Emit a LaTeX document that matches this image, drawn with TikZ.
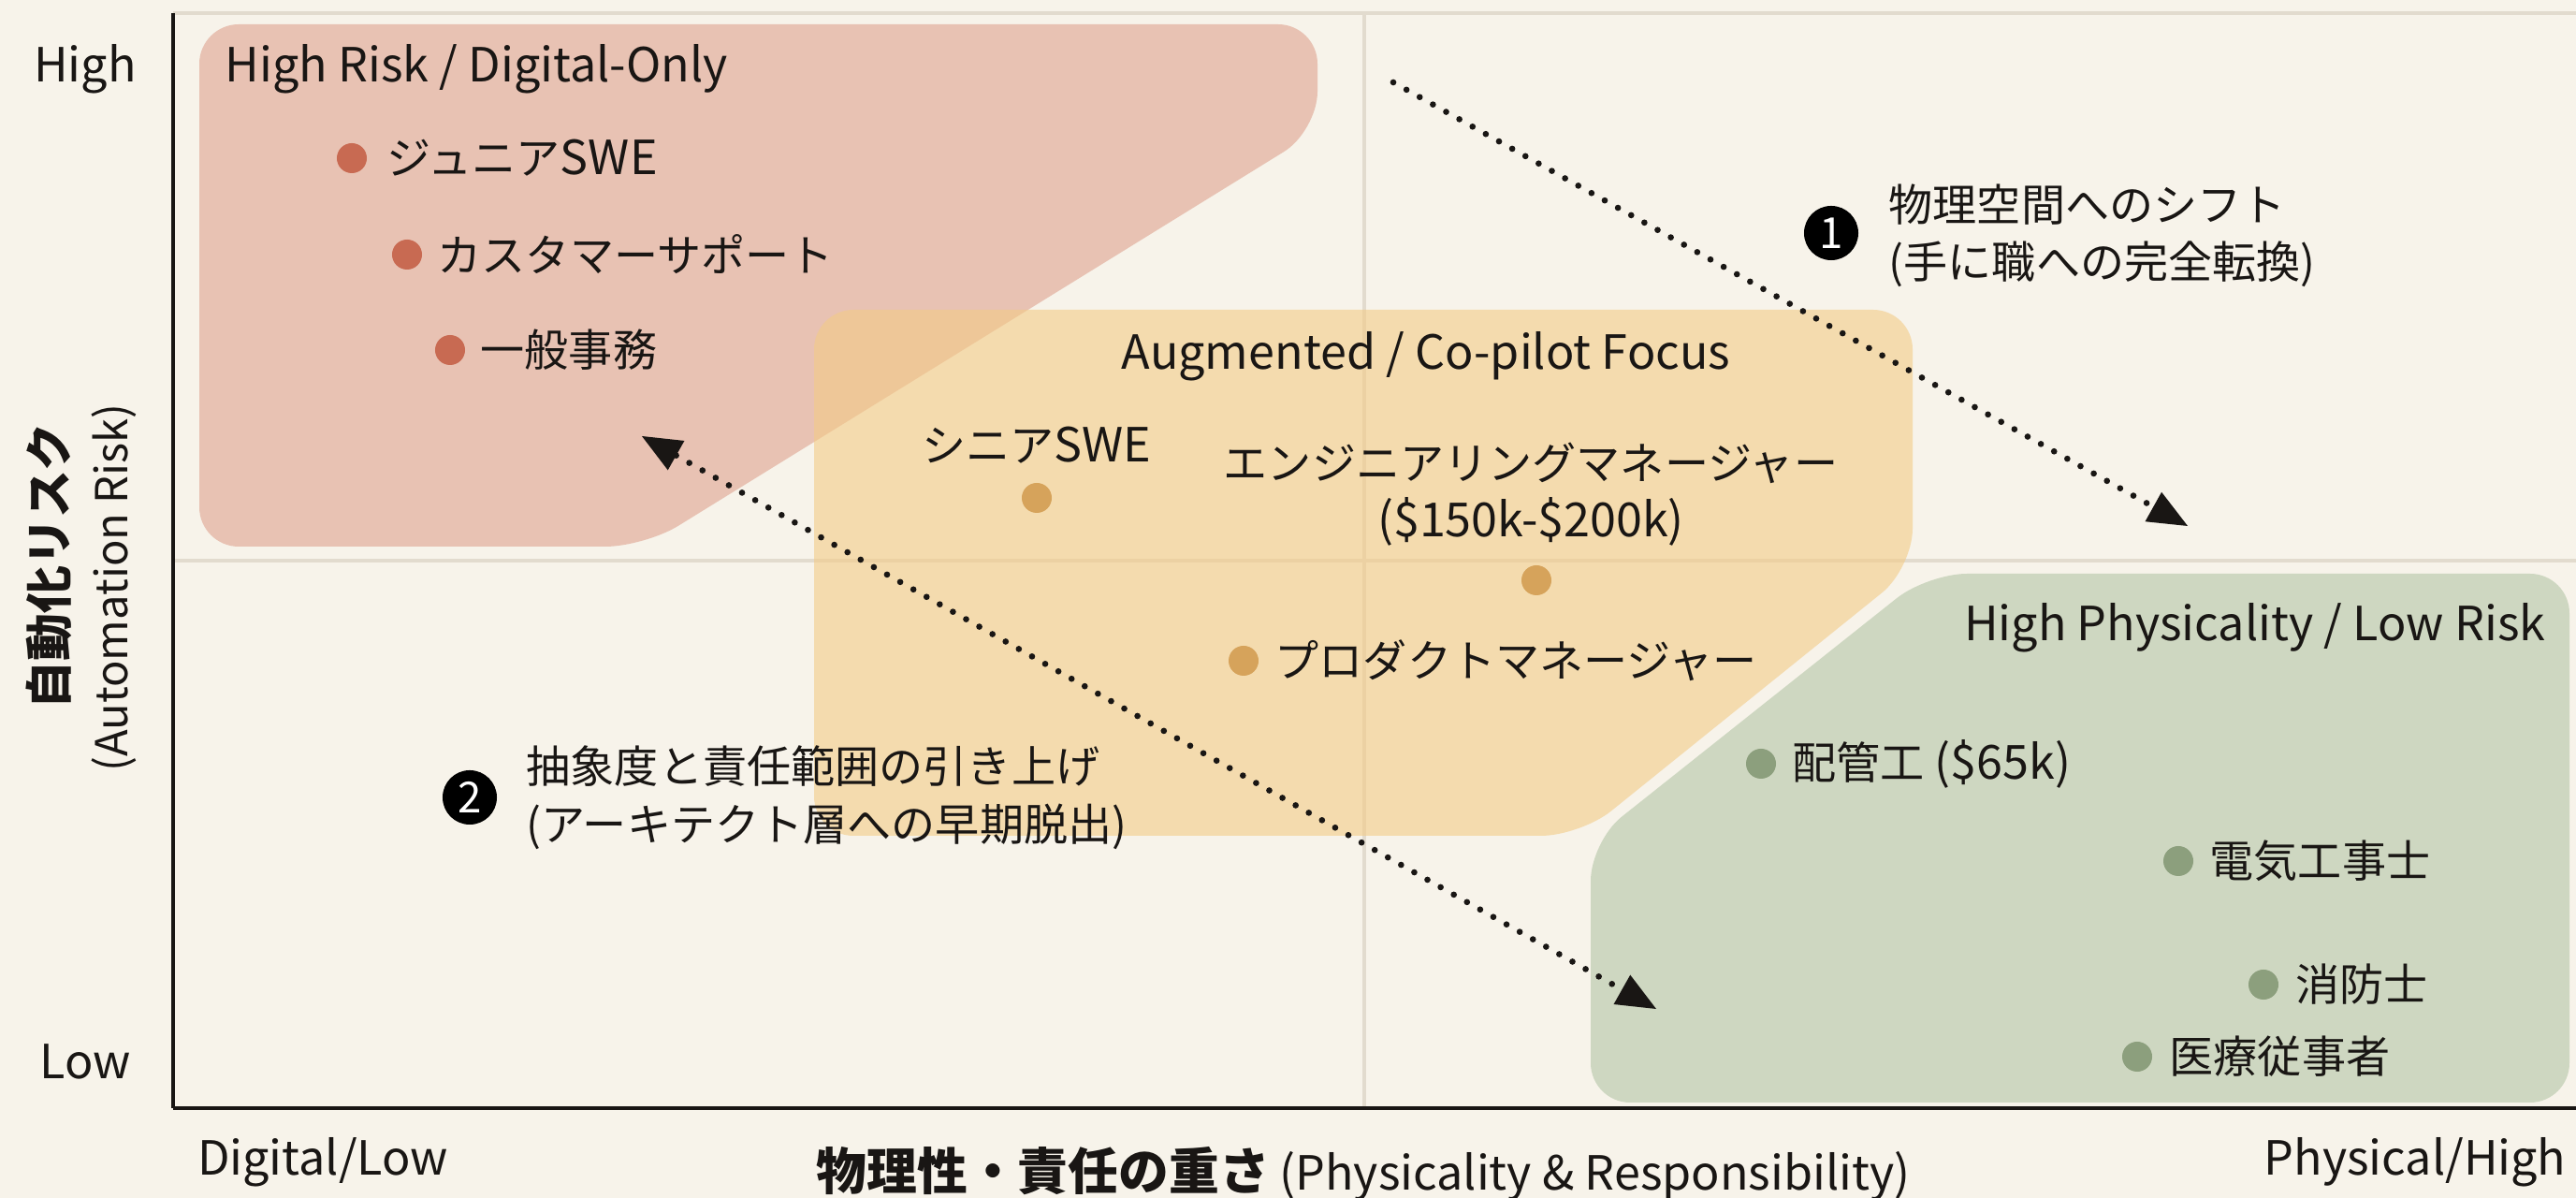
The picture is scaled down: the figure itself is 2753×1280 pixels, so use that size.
\documentclass[tikz,border=0pt]{standalone}
\usepackage{fontspec}
\setmainfont{Noto Sans CJK JP}
\usetikzlibrary{arrows.meta}
\definecolor{bgc}{RGB}{247,243,234}
\definecolor{redreg}{RGB}{220,155,135}
\definecolor{yelreg}{RGB}{243,203,135}
\definecolor{grnreg}{RGB}{206,215,193}
\definecolor{reddot}{RGB}{200,106,82}
\definecolor{yeldot}{RGB}{214,163,91}
\definecolor{grndot}{RGB}{140,159,125}
\definecolor{midline}{RGB}{226,219,206}
\definecolor{ink}{RGB}{25,22,20}
\newcommand{\latn}[1]{{\fontsize{14.3}{17}\selectfont #1}}
\tikzset{
  txt/.style={font=\fontsize{13.4}{17.5}\selectfont, text=ink, inner sep=0pt},
  ltxt/.style={font=\fontsize{14.3}{17.5}\selectfont, text=ink, inner sep=0pt},
  lbl/.style={txt, anchor=west},
  rdot/.style={circle, fill=reddot, minimum size=0.32cm, inner sep=0pt},
  ydot/.style={circle, fill=yeldot, minimum size=0.32cm, inner sep=0pt},
  gdot/.style={circle, fill=grndot, minimum size=0.32cm, inner sep=0pt},
  numc/.style={circle, fill=black, text=white, minimum size=0.58cm, inner sep=0pt, font=\fontsize{13}{14}\selectfont},
  dotarrow/.style={line width=1.9pt, draw=ink, dash pattern=on 0pt off 4.6pt, line cap=round},
  headend/.style={-{Triangle[length=0.42cm,width=0.36cm,line width=0pt]}},
  headboth/.style={{Triangle[length=0.42cm,width=0.36cm,line width=0pt]}-{Triangle[length=0.42cm,width=0.36cm,line width=0pt]}}
}
\begin{document}
\begin{tikzpicture}[x=0.01cm,y=-0.01cm]
\fill[bgc] (0,0) rectangle (2753,1280);
\useasboundingbox (0,0) rectangle (2753,1280);
% grid lines
\draw[midline, line width=1.2pt] (185,14) -- (2753,14);
\draw[midline, line width=1.2pt] (1458,14) -- (1458,1184);
\draw[midline, line width=1.2pt] (185,599) -- (2753,599);
% regions
\fill[redreg, opacity=0.55, rounded corners=12] (213,26) -- (1408,26) -- (1408,140) -- (689,584) -- (213,584) -- cycle;
\fill[yelreg, opacity=0.6, rounded corners=12] (870,331) -- (2044,331) -- (2044,607) -- (1689,893) -- (870,893) -- cycle;
\fill[grnreg, rounded corners=12] (2060,613) -- (2746,613) -- (2746,1178) -- (1700,1178) -- (1700,899) -- cycle;
% axes
\draw[ink, line width=1pt] (185,14) -- (185,1184);
\draw[ink, line width=1.3pt] (185,1184) -- (2753,1184);
% axis labels
\node[ltxt] (high) at (91,74) {High};
\node[ltxt] (low) at (91,1134) {Low};
\node[ltxt] (diglow) at (345,1242) {Digital/Low};
\node[ltxt] (physhigh) at (2581,1242) {Physical/High};
\node[txt, rotate=90, font=\fontsize{14.5}{16}\selectfont\bfseries] (ytitle) at (52,605) {自動化リスク};
\node[txt, rotate=90] (ytitle2) at (122,628) {(Automation Risk)};
\node[txt, anchor=base west] (xtitle) at (872,1272) {{\fontsize{15.3}{16}\selectfont\bfseries 物理性・責任の重さ} \latn{(Physicality \& Responsibility)}};
% region titles
\node[ltxt, anchor=west] (redtitle) at (240,74) {High Risk / Digital-Only};
\node[ltxt] (yeltitle) at (1524,381) {Augmented / Co-pilot Focus};
\node[ltxt, anchor=east] (grntitle) at (2721,671) {High Physicality / Low Risk};
% red items
\node[rdot] (d1) at (376,169) {};
\node[lbl] (t1) at (413,169) {ジュニア\latn{SWE}};
\node[rdot] (d2) at (435,272) {};
\node[lbl] (t2) at (467,272) {カスタマーサポート};
\node[rdot] (d3) at (481,374) {};
\node[lbl] (t3) at (513,374) {一般事務};
% yellow items
\node[txt] (t4) at (1108,476) {シニア\latn{SWE}};
\node[ydot] (d4) at (1108,532) {};
\node[txt, align=center] (t5) at (1636,528) {エンジニアリングマネージャー\\\latn{(\$150k-\$200k)}};
\node[ydot] (d5) at (1642,620) {};
\node[ydot] (d6) at (1329,706) {};
\node[lbl] (t6) at (1362,706) {プロダクトマネージャー};
% green items
\node[gdot] (d7) at (1882,816) {};
\node[lbl] (t7) at (1915,816) {配管工 \latn{(\$65k)}};
\node[gdot] (d8) at (2328,920) {};
\node[lbl] (t8) at (2361,920) {電気工事士};
\node[gdot] (d9) at (2419,1052) {};
\node[lbl] (t9) at (2453,1052) {消防士};
\node[gdot] (d10) at (2284,1129) {};
\node[lbl] (t10) at (2318,1129) {医療従事者};
% annotations
\node[numc] (n1) at (1957,249) {1};
\node[lbl, align=left] (a1) at (2018,252) {物理空間へのシフト\\(手に職への完全転換)};
\node[numc] (n2) at (502,852) {2};
\node[lbl, align=left] (a2) at (562,852) {抽象度と責任範囲の引き上げ\\(アーキテクト層への早期脱出)};
% arrows
\coordinate (s1) at (1489,88);
\coordinate (e1) at (2338,562);
\coordinate (s2) at (686,466);
\coordinate (e2) at (1770,1078);
\draw[dotarrow, headend] (s1) -- (e1);
\draw[dotarrow, headboth] (s2) -- (e2);
\end{tikzpicture}
\end{document}
